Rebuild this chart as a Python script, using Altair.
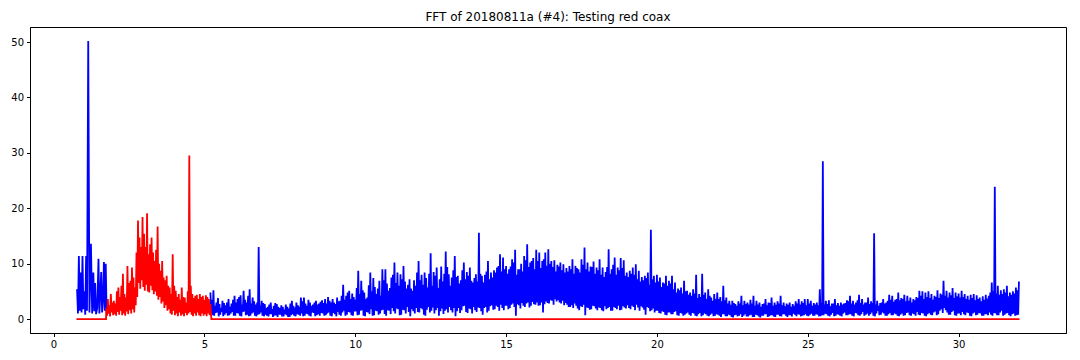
import altair as alt
import pandas as pd

# ---------------- data ----------------
# Blue, first stretch (explicit frequencies)
blue_seg1_x = [0.78, 0.81, 0.84, 0.87, 0.90, 0.93, 0.96, 0.99, 1.02, 1.05,
               1.08, 1.11, 1.15, 1.19, 1.24, 1.28, 1.32, 1.35, 1.38, 1.41,
               1.45, 1.49, 1.52, 1.55, 1.58, 1.61, 1.64, 1.67, 1.70, 1.73, 1.76]
blue_seg1_y = [5.4, 1.0, 11.4, 1.5, 8.4, 1.2, 11.4, 1.8, 5.0, 0.8,
               11.4, 1.5, 50.2, 1.2, 13.6, 1.0, 8.4, 1.4, 6.5, 0.9,
               2.0, 10.9, 1.0, 4.5, 8.5, 1.2, 3.5, 10.3, 1.5, 10.0, 1.0]

# Blue, second stretch: each 0.1 cell from 5.2 holds
# a peak (f), a trough (f+0.025), a middle peak (f+0.05), a trough (f+0.075)
BLUE_START = 5.2
BLUE_STEP = 0.1
blue_peaks = [
    4.8, 5.2, 3.0, 2.7, 3.3, 2.5, 3.6, 2.8,
    4.2, 3.6, 4.3, 5.1, 3.0, 5.4, 3.9, 2.6, 13.0, 3.3,
    2.7, 2.2, 3.0, 2.4, 2.7, 2.0, 2.2, 2.6, 1.9, 3.3,
    2.1, 2.5, 3.9, 3.9, 2.4, 3.0, 2.6, 3.3, 2.8, 3.4,
    3.6, 4.0, 3.0, 3.0, 3.9, 3.3, 6.2, 4.2, 5.1, 4.6,
    3.5, 8.7, 6.9, 4.8, 3.9, 8.4, 7.4, 4.5, 6.9, 9.0,
    9.0, 5.1, 7.5, 10.2, 8.4, 8.1, 9.6, 5.5, 7.2, 5.1,
    6.0, 10.5, 8.0, 8.4, 5.7, 11.9, 8.5, 9.3, 7.2, 6.8,
    12.2, 8.1, 7.5, 11.4, 7.8, 7.0, 10.2, 8.5, 9.3, 6.6,
    8.1, 15.6, 7.8, 8.0, 10.5, 8.4, 8.8, 9.3, 11.7, 11.1,
    9.6, 9.0, 10.8, 12.5, 9.0, 10.0, 11.4, 13.5, 10.2, 11.0,
    12.5, 12.0, 10.5, 12.0, 12.6, 10.5, 10.6, 9.8, 10.2, 9.9,
    9.2, 9.6, 10.8, 9.6, 9.0, 10.8, 12.9, 10.2, 9.5, 10.4,
    9.3, 10.8, 9.3, 8.5, 12.6, 9.0, 11.1, 9.3, 11.0, 10.6,
    8.4, 8.7, 9.3, 9.9, 8.7, 7.6, 7.8, 8.4, 16.1, 7.8,
    8.0, 7.5, 6.6, 7.8, 6.9, 7.8, 6.6, 5.5, 5.7, 6.9,
    5.1, 4.8, 5.4, 8.0, 4.5, 8.2, 4.8, 5.4, 3.9, 4.5,
    4.8, 4.0, 6.0, 3.9, 3.3, 3.3, 2.7, 3.2, 4.2, 3.3,
    3.0, 3.5, 4.2, 3.3, 3.0, 2.7, 3.6, 3.0, 3.9, 3.0,
    3.2, 4.2, 3.0, 2.8, 3.0, 2.7, 3.2, 3.6, 3.2, 3.6,
    3.6, 3.3, 2.9, 3.0, 5.4, 28.5, 3.3, 3.4, 2.8, 3.6,
    2.9, 3.0, 2.8, 3.4, 4.2, 3.3, 3.0, 4.4, 3.6, 3.0,
    3.9, 3.2, 15.5, 3.3, 2.9, 3.6, 3.0, 4.4, 4.2, 3.5,
    4.8, 3.8, 4.4, 4.2, 3.9, 3.6, 4.0, 5.1, 5.0, 4.8,
    5.0, 4.5, 4.2, 5.2, 4.6, 6.9, 5.1, 4.8, 5.6, 4.8,
    4.6, 5.1, 4.5, 4.2, 4.4, 4.5, 4.3, 3.9, 4.1, 4.4,
    4.2, 6.6, 23.9, 6.0, 5.2, 5.4, 6.0, 4.8, 5.0, 5.7,
    6.8,
]
blue_troughs = [
    1.0, 0.6, 1.2, 0.8, 0.5, 1.1, 0.7, 1.3,
    0.6, 1.0, 0.5, 1.4, 0.8, 0.6, 1.2, 0.5, 0.9, 0.6,
    0.8, 0.5, 0.9, 0.6, 0.4, 0.8, 0.5, 0.7, 0.4, 0.9,
    0.5, 0.8, 1.0, 0.6, 0.9, 0.5, 1.1, 0.7, 0.6, 1.0,
    0.7, 1.2, 0.5, 0.9, 1.3, 0.6, 1.5, 0.8, 1.2, 0.6,
    1.4, 0.8, 1.6, 0.5, 1.2, 1.8, 0.7, 1.4, 1.0, 1.7,
    0.6, 1.5, 2.0, 1.0, 1.8, 0.8, 1.6, 2.2, 0.5, 1.4,
    2.0, 1.2, 1.8, 0.6, 2.2, 1.5, 1.0, 2.0, 1.4, 0.9,
    1.8, 2.2, 1.2, 0.5, 2.0, 1.6, 2.4, 1.1, 1.8, 2.2,
    1.3, 2.0, 0.8, 2.2, 1.5, 2.5, 1.8, 2.2, 2.6, 1.6,
    2.4, 2.0, 2.8, 0.6, 2.5, 2.9, 2.2, 3.0, 2.4, 2.7,
    3.0, 2.5, 1.2, 3.2, 2.8, 3.3, 3.6, 3.4, 2.8, 2.5,
    2.6, 2.2, 2.0, 2.4, 1.6, 2.2, 0.7, 2.0, 1.8, 2.3,
    1.6, 2.0, 1.4, 1.8, 2.2, 1.5, 2.0, 2.4, 1.7, 2.1,
    2.5, 1.8, 2.2, 2.6, 1.5, 2.1, 0.8, 2.0, 1.6, 1.2,
    1.5, 1.0, 1.3, 0.7, 1.2, 0.9, 1.4, 0.6, 1.0, 0.8,
    1.2, 0.6, 1.0, 0.5, 1.1, 0.7, 0.9, 0.5, 1.0, 0.6,
    0.8, 0.4, 0.9, 0.5, 0.7, 0.3, 0.8, 0.6, 0.4, 0.9,
    0.5, 0.8, 0.4, 0.7, 0.3, 0.6, 0.9, 0.5, 0.7, 0.4,
    0.8, 0.5, 0.9, 0.4, 0.7, 1.0, 0.5, 0.8, 0.6, 0.9,
    0.5, 1.0, 0.6, 0.8, 0.5, 0.7, 0.9, 0.5, 1.1, 0.6,
    0.8, 0.5, 1.2, 0.7, 0.9, 0.5, 1.0, 0.6, 1.3, 0.8,
    0.6, 1.2, 0.5, 1.5, 0.8, 1.0, 0.6, 1.1, 0.7, 0.9,
    0.5, 1.0, 0.7, 1.2, 0.6, 0.9, 1.3, 0.7, 1.0, 0.5,
    1.1, 0.7, 1.4, 0.9, 1.8, 2.0, 1.2, 0.8, 1.5, 0.6,
    1.0, 1.3, 0.7, 1.1, 0.5, 1.2, 0.8, 1.0, 0.6, 0.9,
    1.2, 0.6, 1.0, 0.7, 1.5, 0.8, 1.1, 0.5, 1.0, 0.7,
]
blue_mid_peaks = [
    3.5, 2.4, 3.8, 2.0, 2.9, 3.0, 2.2, 3.5,
    3.0, 4.0, 2.6, 3.5, 4.2, 2.8, 3.2, 3.0, 2.4, 2.9,
    2.0, 2.6, 1.8, 2.9, 2.2, 2.5, 1.7, 2.2, 2.8, 2.4,
    3.0, 2.2, 3.2, 2.8, 3.5, 2.4, 3.0, 2.6, 3.1, 2.9,
    2.8, 3.3, 3.6, 2.7, 3.2, 4.2, 3.5, 4.8, 3.6, 4.0,
    5.6, 4.5, 5.2, 3.6, 6.1, 5.0, 5.8, 5.5, 4.2, 7.0,
    6.4, 5.6, 8.0, 6.5, 6.0, 7.2, 6.8, 6.2, 5.5, 7.0,
    8.4, 7.0, 6.2, 7.4, 8.2, 6.0, 7.8, 5.6, 9.5, 8.2,
    9.4, 6.0, 8.8, 7.6, 6.4, 8.8, 7.2, 7.8, 6.9, 7.4,
    6.8, 8.2, 6.6, 8.6, 7.2, 7.5, 8.4, 9.6, 8.6, 9.0,
    8.2, 9.5, 10.2, 8.0, 9.0, 8.6, 10.6, 9.4, 10.5, 9.0,
    10.5, 9.2, 10.8, 9.6, 10.0, 9.4, 8.6, 9.5, 8.8, 8.4,
    8.6, 9.0, 8.2, 9.2, 8.4, 9.8, 9.0, 8.6, 9.4, 8.2,
    8.8, 8.0, 7.6, 9.4, 8.2, 9.8, 8.0, 8.8, 9.2, 7.8,
    7.6, 8.2, 8.0, 7.2, 6.8, 7.0, 7.4, 6.2, 7.2, 6.6,
    6.8, 5.8, 6.4, 6.0, 6.4, 5.4, 4.8, 5.2, 4.6, 5.0,
    4.4, 4.2, 4.6, 3.8, 4.0, 4.4, 3.6, 4.2, 3.3, 3.6,
    3.6, 3.2, 3.4, 2.8, 2.6, 2.9, 2.4, 2.8, 2.5, 2.7,
    2.6, 2.8, 2.4, 2.6, 2.2, 2.8, 2.5, 2.9, 2.4, 2.6,
    2.8, 2.5, 2.3, 2.6, 2.2, 2.4, 2.8, 2.6, 2.9, 2.5,
    2.8, 2.4, 2.6, 2.5, 2.9, 2.6, 2.7, 2.3, 2.8, 2.5,
    2.4, 2.6, 2.9, 3.2, 2.8, 2.6, 3.4, 2.9, 2.6, 3.0,
    2.7, 2.9, 2.6, 2.4, 3.0, 2.8, 3.3, 3.5, 3.1, 3.6,
    3.4, 3.6, 3.2, 3.3, 3.0, 3.4, 3.8, 4.2, 3.6, 4.0,
    3.8, 3.5, 4.0, 3.8, 4.4, 4.2, 3.9, 4.3, 3.8, 4.1,
    3.9, 4.0, 3.6, 3.5, 3.8, 3.4, 3.6, 3.2, 3.5, 3.7,
    4.8, 5.0, 4.6, 4.4, 4.5, 4.8, 4.1, 4.4, 4.6, 5.2,
]
blue_troughs_b = [
    0.7, 1.1, 0.5, 1.3, 0.8, 0.6, 1.0, 0.6,
    1.1, 0.6, 1.3, 0.7, 0.5, 1.0, 0.6, 0.8, 1.2, 0.5,
    0.6, 0.9, 0.4, 0.7, 0.8, 0.5, 0.9, 0.4, 0.7, 0.6,
    0.9, 0.6, 0.5, 1.0, 0.6, 1.2, 0.5, 0.9, 1.1, 0.6,
    1.0, 0.6, 1.1, 0.5, 0.8, 1.2, 0.6, 1.3, 0.7, 1.4,
    0.7, 1.5, 0.6, 1.3, 0.9, 0.6, 1.5, 0.8, 1.6, 0.9,
    1.6, 0.9, 1.4, 1.9, 0.7, 1.7, 1.0, 1.3, 1.8, 1.0,
    1.3, 2.0, 0.8, 1.7, 1.2, 2.1, 1.6, 0.6, 1.9, 1.5,
    1.2, 1.6, 2.0, 1.4, 1.1, 2.3, 1.3, 1.9, 1.0, 1.6,
    2.1, 1.4, 2.0, 1.2, 2.3, 1.7, 2.4, 1.5, 2.0, 2.4,
    1.8, 2.6, 2.2, 2.7, 1.9, 2.4, 2.8, 2.1, 3.1, 2.6,
    2.4, 3.0, 2.7, 2.9, 3.4, 2.6, 3.2, 3.0, 3.3, 2.9,
    2.2, 2.5, 2.8, 1.9, 2.3, 2.6, 2.1, 1.7, 2.4, 1.9,
    2.1, 1.6, 2.3, 2.0, 1.5, 2.2, 1.8, 1.6, 2.3, 1.9,
    2.0, 2.4, 1.6, 2.1, 2.3, 1.7, 2.2, 1.4, 1.9, 1.5,
    1.1, 1.4, 0.8, 1.2, 0.9, 1.3, 0.7, 1.1, 0.6, 1.0,
    0.8, 1.1, 0.6, 0.9, 0.5, 1.0, 0.6, 0.8, 0.5, 0.9,
    0.6, 0.9, 0.5, 0.8, 0.4, 0.7, 0.5, 0.9, 0.6, 0.5,
    0.7, 0.4, 0.8, 0.5, 0.6, 0.9, 0.4, 0.7, 0.5, 0.8,
    0.5, 0.9, 0.6, 0.7, 0.5, 0.8, 0.9, 0.5, 0.7, 0.6,
    0.8, 0.6, 0.9, 0.5, 0.7, 1.0, 0.6, 0.8, 0.5, 0.9,
    0.6, 1.0, 0.7, 0.9, 0.6, 1.1, 0.7, 0.9, 0.6, 1.0,
    0.9, 0.6, 1.0, 0.7, 1.2, 0.6, 0.9, 0.7, 1.0, 0.6,
    0.8, 0.6, 1.1, 0.7, 1.0, 0.6, 0.8, 1.1, 0.6, 0.9,
    0.8, 1.2, 0.7, 1.5, 1.1, 1.6, 0.8, 1.3, 0.7, 1.0,
    0.7, 0.9, 1.2, 0.6, 1.0, 0.7, 1.1, 0.6, 0.9, 0.7,
    0.8, 1.1, 0.7, 1.2, 0.6, 1.0, 0.7, 0.9, 0.6, 0.8,
]

# Red: zero outside the band, noisy band from 1.75 to 5.2
RED_START = 1.75
RED_STEP = 0.05
red_zero_x = [0.76, 1.74, 5.23, 32.02]
red_peaks = [
    2.0, 3.6, 2.5, 4.5, 3.0,
    3.3, 2.8, 5.0, 5.7, 4.0, 6.0, 8.2, 4.5, 3.9, 9.6,
    6.5, 6.9, 9.3, 7.5, 5.7, 12.0, 17.8, 14.7, 13.0, 18.4,
    15.4, 13.0, 19.1, 11.7, 13.5, 14.7, 12.0, 10.5, 12.5, 16.7,
    10.0, 8.7, 10.5, 7.5, 7.0, 7.8, 6.0, 5.7, 4.5, 11.7,
    6.0, 5.1, 4.0, 4.5, 3.5, 5.7, 4.0, 3.9, 3.0, 5.0,
    29.5, 6.0, 4.5, 3.8, 4.2, 4.4, 3.6, 4.5, 4.0, 4.2,
    3.5, 4.3, 4.0, 3.6, 2.7,
]
red_troughs = [
    0.6, 1.0, 0.5, 1.2, 0.7, 0.9, 0.6, 1.3, 0.8, 1.5,
    0.7, 1.0, 0.6, 1.4, 0.9, 1.6, 1.0, 1.8, 1.2, 2.5,
    4.0, 6.5, 5.5, 7.0, 5.8, 5.1, 6.2, 5.0, 4.8, 6.0,
    5.2, 4.5, 5.0, 4.2, 3.5, 4.0, 2.8, 3.2, 2.0, 2.5,
    1.5, 1.8, 1.0, 0.8, 1.5, 0.7, 1.0, 0.5, 1.2, 0.6,
    0.9, 0.5, 1.1, 0.7, 1.0, 1.3, 0.8, 0.5, 1.0, 0.6,
    1.2, 0.7, 0.5, 1.0, 0.6, 0.9, 0.5, 1.0, 0.7,
]

TITLE = "FFT of 20180811a (#4): Testing red coax"
X_TICKS = [0, 5, 10, 15, 20, 25, 30]
Y_TICKS = [0, 10, 20, 30, 40, 50]

# ---------------- tables ----------------
blue_rows = [{"f": x, "a": y, "seg": "b1"} for x, y in zip(blue_seg1_x, blue_seg1_y)]
for offset, values in ((0.0, blue_peaks), (0.025, blue_troughs),
                       (0.05, blue_mid_peaks), (0.075, blue_troughs_b)):
    for i, y in enumerate(values):
        blue_rows.append({"f": round(BLUE_START + offset + i * BLUE_STEP, 4), "a": y, "seg": "b2"})
blue_df = pd.DataFrame(blue_rows).sort_values("f")

red_rows = [{"f": x, "a": 0.0} for x in red_zero_x]
for i, y in enumerate(red_peaks):
    red_rows.append({"f": round(RED_START + i * RED_STEP, 4), "a": y})
for i, y in enumerate(red_troughs):
    red_rows.append({"f": round(RED_START + RED_STEP / 2 + i * RED_STEP, 4), "a": y})
red_df = pd.DataFrame(red_rows).sort_values("f")

x_enc = alt.X("f:Q", scale=alt.Scale(domain=[-0.78, 33.56], nice=False, zero=False),
              axis=alt.Axis(values=X_TICKS, title=None, grid=False, labelFlush=False))
y_enc = alt.Y("a:Q", scale=alt.Scale(domain=[-2.51, 52.71], nice=False, zero=False),
              axis=alt.Axis(values=Y_TICKS, title=None, grid=False, labelFlush=False))

blue_line = alt.Chart(blue_df).mark_line(color="#0000ff", strokeWidth=1.8).encode(
    x=x_enc, y=y_enc, detail="seg:N", order="f:Q")
red_line = alt.Chart(red_df).mark_line(color="#ff0000", strokeWidth=1.8).encode(
    x=x_enc, y=y_enc, order="f:Q")

chart = alt.layer(blue_line, red_line).properties(
    width=1036, height=306,
    title=alt.TitleParams(TITLE, font="DejaVu Sans", fontSize=12, fontWeight="normal",
                          color="black", anchor="middle", offset=3),
    padding={"left": 22, "top": 19, "right": 6, "bottom": 20},
    autosize=alt.AutoSizeParams(type="none"),
).configure_view(stroke="black", strokeWidth=1).configure_axis(
    labelFont="DejaVu Sans", labelFontSize=10, labelColor="black",
    tickColor="black", tickSize=3.5, tickWidth=1, labelPadding=3,
    domainColor="black", domainWidth=1,
)

chart.save("out.html", embed_options={"renderer": "svg", "actions": False})
